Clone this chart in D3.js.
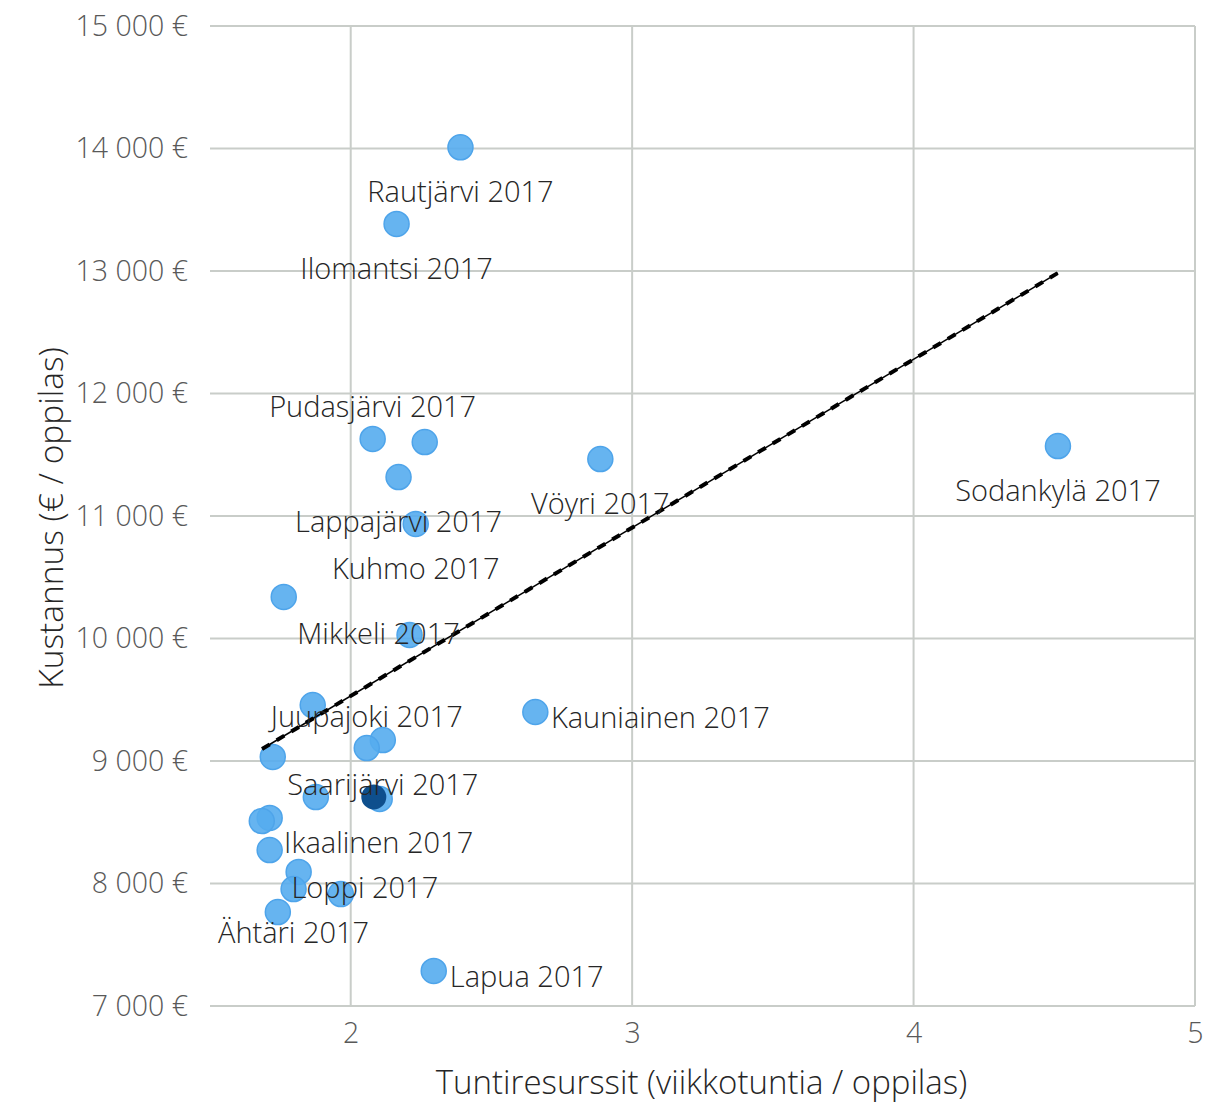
<!DOCTYPE html>
<html>
<head>
<meta charset="utf-8">
<script src="https://cdn.jsdelivr.net/npm/d3@7"></script>
<style>
  body { margin: 0; background: #fff; }
  text { font-family: "Open Sans", "Noto Sans", sans-serif; font-weight: 300; }
</style>
</head>
<body>
<div id="chart"></div>
<script>
// chart size
const width = 1209;
const height = 1105;
const margin = {top: 26, right: 14, bottom: 99, left: 210};

// data (x = viikkotuntia / oppilas, y = € / oppilas)
const tuntiresurssit = [2.39, 2.163, 2.078, 2.263, 2.17, 2.887, 4.513, 2.231, 1.762, 2.209,
    1.865, 2.656, 2.114, 2.057, 1.723, 1.876, 2.103, 1.712, 1.684, 1.712,
    1.815, 1.797, 1.965, 1.741, 2.295];
const kustannus = [14010, 13384, 11629, 11604, 11318, 11465, 11571, 10935, 10339, 10029,
    9457, 9400, 9171, 9106, 9033, 8706, 8690, 8535, 8510, 8273,
    8094, 7955, 7914, 7767, 7286];
const nimet = ["Rautjärvi 2017", "Ilomantsi 2017", "Pudasjärvi 2017", "", "Lappajärvi 2017", "Vöyri 2017",
    "Sodankylä 2017", "Kuhmo 2017", "", "Mikkeli 2017", "", "Kauniainen 2017", "Saarijärvi 2017",
    "Juupajoki 2017", "", "", "", "", "", "Ikaalinen 2017", "", "Ähtäri 2017", "Loppi 2017", "", "Lapua 2017"];

// highlighted municipality
const korostettu = {x: 2.082, y: 8706};

// trend line end points
const trendX = [1.685, 4.513];
const trendY = [9098, 12984];

const xTicks = [2, 3, 4, 5];
const yTicks = [7000, 8000, 9000, 10000, 11000, 12000, 13000, 14000, 15000];

// label offsets in px from the point (label centre), like moved excel labels
const labelDx = [0, 0, 0, 0, 0, 0, 0, 0, 0, -31, 0, 125, 0, 0, 0, 0, 0, 0, 0, 109, 0, 0, 24, 0, 93];
const labelDy = [45, 45, -32, 0, 45, 45, 45, 45, 0, -1, 0, 6, 45, -31, 0, 0, 0, 0, 0, -7, 0, 44, -6, 0, 6];

const svg = d3.select("#chart")
    .append("svg")
    .attr("width", width)
    .attr("height", height);

const x = d3.scaleLinear()
    .domain([1.5, 5])
    .range([margin.left, width - margin.right]);

const y = d3.scaleLinear()
    .domain([7000, 15000])
    .range([height - margin.bottom, margin.top]);

const fmt = v => d3.format(",")(v).replace(",", " ") + " €";

// gridlines
svg.append("g")
    .selectAll("line")
    .data(yTicks)
    .join("line")
    .attr("x1", x(1.5)).attr("x2", x(5))
    .attr("y1", d => y(d)).attr("y2", d => y(d))
    .attr("stroke", "#c9cdc9")
    .attr("stroke-width", 2);

svg.append("g")
    .selectAll("line")
    .data(xTicks)
    .join("line")
    .attr("x1", d => x(d)).attr("x2", d => x(d))
    .attr("y1", y(15000)).attr("y2", y(7000))
    .attr("stroke", "#c9cdc9")
    .attr("stroke-width", 2);

// axes
const yAxis = svg.append("g")
    .attr("transform", `translate(${margin.left},0)`)
    .call(d3.axisLeft(y).tickValues(yTicks).tickFormat(fmt).tickSize(0).tickPadding(22));
yAxis.select(".domain").remove();
yAxis.selectAll("text")
    .style("font-size", "28.5px")
    .attr("fill", "#595959");

const xAxis = svg.append("g")
    .attr("transform", `translate(0,${height - margin.bottom})`)
    .call(d3.axisBottom(x).tickValues(xTicks).tickFormat(d3.format("d")).tickSize(0).tickPadding(17));
xAxis.select(".domain").remove();
xAxis.selectAll("text")
    .style("font-size", "28.5px")
    .attr("fill", "#595959");

// axis titles
svg.append("text")
    .attr("x", (x(1.5) + x(5)) / 2 - 1)
    .attr("y", 1094)
    .attr("text-anchor", "middle")
    .style("font-size", "33px")
    .attr("fill", "#262626")
    .text("Tuntiresurssit (viikkotuntia / oppilas)");

svg.append("text")
    .attr("transform", `translate(63,${(y(7000) + y(15000)) / 2 + 2}) rotate(-90)`)
    .attr("text-anchor", "middle")
    .style("font-size", "33.5px")
    .attr("fill", "#262626")
    .text("Kustannus (€ / oppilas)");

// points
const pts = tuntiresurssit.map((v, i) => ({x: v, y: kustannus[i], name: nimet[i], dx: labelDx[i], dy: labelDy[i]}));

svg.append("g")
    .selectAll("circle")
    .data(pts)
    .join("circle")
    .attr("cx", d => x(d.x))
    .attr("cy", d => y(d.y))
    .attr("r", 12.5)
    .attr("fill", "#55acee")
    .attr("fill-opacity", 0.9)
    .attr("stroke", "#4ea4ea")
    .attr("stroke-width", 1.5);

svg.append("circle")
    .attr("cx", x(korostettu.x))
    .attr("cy", y(korostettu.y))
    .attr("r", 12.5)
    .attr("fill", "#0e4f8d");

// trend line: thin solid line with heavy dashes on top
const trend = d3.line()
    .x(d => x(d[0]))
    .y(d => y(d[1]));
const trendData = trendX.map((v, i) => [v, trendY[i]]);

svg.append("path")
    .datum(trendData)
    .attr("d", trend)
    .attr("fill", "none")
    .attr("stroke", "#000")
    .attr("stroke-width", 1.5);

svg.append("path")
    .datum(trendData)
    .attr("d", trend)
    .attr("fill", "none")
    .attr("stroke", "#000")
    .attr("stroke-width", 4)
    .attr("stroke-dasharray", "9 8");

// data labels
svg.append("g")
    .selectAll("text")
    .data(pts.filter(d => d.name !== ""))
    .join("text")
    .attr("x", d => x(d.x) + d.dx)
    .attr("y", d => y(d.y) + d.dy + 10)
    .attr("text-anchor", "middle")
    .style("font-size", "29px")
    .attr("fill", "#262626")
    .text(d => d.name);
</script>
</body>
</html>
